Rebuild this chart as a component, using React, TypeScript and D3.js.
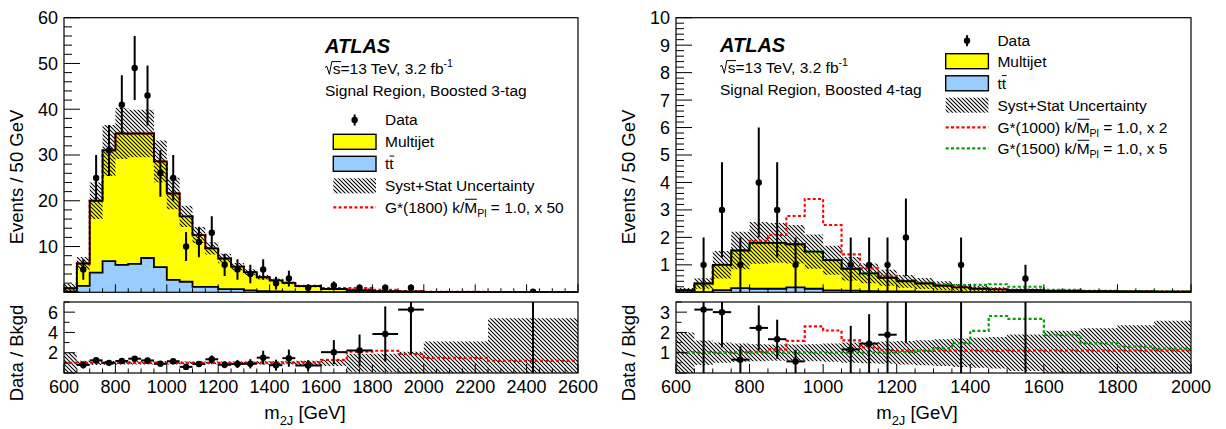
import React from 'react';
import * as d3 from 'd3';

const FONT = "'Liberation Sans', Arial, Helvetica, sans-serif";

// ---------------- data ----------------
// bin edges (GeV)
const leftEdges = [600, 650, 700, 750, 800, 850, 900, 950, 1000, 1050, 1100, 1150, 1200, 1250, 1300, 1350, 1400, 1450, 1500, 1600, 1700, 1800, 1900, 2000, 2250, 2600];
const rightEdges = [600, 650, 700, 750, 800, 850, 900, 950, 1000, 1050, 1100, 1150, 1200, 1250, 1300, 1350, 1400, 1450, 1500, 1600, 1700, 1800, 1900, 2000];

// Boosted 3-tag (events / 50 GeV)
const leftMultijet = [0.7, 4.9, 15.7, 24.2, 28.7, 28.5, 27.2, 23.1, 18.9, 14.3, 11.3, 8.4, 6.7, 4.9, 4.0, 3.05, 2.4, 1.9, 1.25, 0.68, 0.42, 0.24, 0.15, 0.065, 0.014];
const leftTtbar = [0.2, 1.4, 4.3, 6.8, 6.0, 6.2, 7.5, 5.5, 2.7, 2.3, 1.2, 1.2, 0.7, 0.7, 0.4, 0.25, 0.2, 0.15, 0.1, 0.05, 0.03, 0.02, 0.01, 0.005, 0.001];
const leftData: (number | null)[] = [null, 5, 25, 31, 41, 49, 43, 26, 25, 10, 11, 13, 6, 5, 4, 5, 2, 3, 1, 1.5, 1, 1, 1, null, 0.143];
const leftRelUnc = [1.0, 0.22, 0.2, 0.18, 0.16, 0.15, 0.15, 0.16, 0.16, 0.14, 0.14, 0.14, 0.14, 0.14, 0.14, 0.15, 0.15, 0.15, 0.2, 0.3, 0.87, 0.9, 1.1, 2.1, 4.4];
const leftSignal1800x50 = [0.005, 0.01, 0.01, 0.01, 0.01, 0.01, 0.01, 0.01, 0.01, 0.01, 0.01, 0.01, 0.01, 0.01, 0.02, 0.03, 0.04, 0.05, 0.07, 0.22, 0.5, 0.31, 0.14, 0.035, 0.003];

// Boosted 4-tag (events / 50 GeV)
const rightMultijet = [0.08, 0.31, 0.92, 1.37, 1.67, 1.67, 1.57, 1.35, 1.10, 0.80, 0.65, 0.50, 0.37, 0.30, 0.22, 0.17, 0.12, 0.095, 0.07, 0.047, 0.035, 0.028, 0.024];
const rightTtbar = [0, 0.01, 0.08, 0.15, 0.13, 0.13, 0.18, 0.13, 0.07, 0.06, 0.04, 0.03, 0.03, 0.02, 0.02, 0.01, 0.01, 0.01, 0.005, 0.003, 0.002, 0.002, 0.001];
const rightData: (number | null)[] = [null, 1, 3, 1, 4, 3, 1, null, null, 1, 1, 1, 2, null, null, 1, null, null, 0.5, null, null, null, null];
const rightRelUnc = [1.0, 0.6, 0.5, 0.45, 0.42, 0.4, 0.4, 0.42, 0.45, 0.5, 0.52, 0.55, 0.58, 0.62, 0.66, 0.7, 0.74, 0.78, 0.9, 1.08, 1.2, 1.35, 1.58];
const rightSignal1000x2 = [0, 0, 0, 0.02, 0.08, 0.29, 1.03, 1.92, 1.28, 0.52, 0.18, 0.07, 0.04, 0.03, 0.024, 0.018, 0.013, 0.01, 0.0075, 0.005, 0.0037, 0.003, 0.0025];
const rightSignal1500x5 = [0, 0, 0, 0, 0, 0, 0, 0, 0, 0, 0, 0, 0.01, 0.03, 0.055, 0.085, 0.14, 0.19, 0.125, 0.043, 0.017, 0.009, 0.005];

// tick labels
const leftXLabels = [600, 800, 1000, 1200, 1400, 1600, 1800, 2000, 2200, 2400, 2600];
const rightXLabels = [600, 800, 1000, 1200, 1400, 1600, 1800, 2000];
const leftYLabels = [10, 20, 30, 40, 50, 60];
const rightYLabels = [1, 2, 3, 4, 5, 6, 7, 8, 9, 10];
const leftRatioLabels = [2, 4, 6];
const rightRatioLabels = [1, 2, 3];

// ---------------- layout ----------------
const MAIN_TOP = 17.7;
const MAIN_BOT = 292.3;
const RAT_TOP = 302;
const RAT_BOT = 373;
const TICK_FS = 18;
const TITLE_FS = 18.5;
const LEG_FS = 15.5;
const RED = '#ff0000';
const GREEN = '#00a000';
const YELLOW = '#ffff00';
const BLUE = '#99ccff';

let _ctx: CanvasRenderingContext2D | null = null;
function measure(text: string, size: number, weight = 'normal', style = 'normal') {
  if (!_ctx) _ctx = document.createElement('canvas').getContext('2d');
  if (!_ctx) return text.length * size * 0.55;
  _ctx.font = `${style} ${weight} ${size}px 'Liberation Sans'`;
  return _ctx.measureText(text).width;
}

type Sig = { vals: number[]; color: string };
interface PanelProps {
  id: string;
  x0: number;
  x1: number;
  xMax: number;
  edges: number[];
  multijet: number[];
  ttbar: number[];
  data: (number | null)[];
  unc: number[];
  signals: Sig[];
  yMax: number;
  yMinor: number;
  yMajor: number;
  yLabels: number[];
  rMax: number;
  rMinor: number;
  rMajor: number;
  rLabels: number[];
  xLabels: number[];
}

const isMajor = (v: number, step: number) => Math.abs(v / step - Math.round(v / step)) < 1e-6;

function Panel(p: PanelProps) {
  const x = d3.scaleLinear().domain([600, p.xMax]).range([p.x0, p.x1]);
  const y = d3.scaleLinear().domain([0, p.yMax]).range([MAIN_BOT, MAIN_TOP]);
  const r = d3.scaleLinear().domain([0, p.rMax]).range([RAT_BOT, RAT_TOP]);
  const total = p.multijet.map((m, i) => m + p.ttbar[i]);
  const zeros = total.map(() => 0);
  const ext = (a: number[]) => [...a, a[a.length - 1]];

  const band = (lo: number[], hi: number[], ys: d3.ScaleLinear<number, number>) => {
    const L = ext(lo);
    const Hh = ext(hi);
    return d3
      .area<number>()
      .x((e) => x(e))
      .y0((_, i) => ys(L[i]))
      .y1((_, i) => ys(Hh[i]))
      .curve(d3.curveStepAfter)(p.edges) as string;
  };
  const outline = (vals: number[], ys: d3.ScaleLinear<number, number>, drop: boolean) => {
    const V = ext(vals);
    const pts: [number, number][] = p.edges.map((e, i) => [e, V[i]]);
    const all: [number, number][] = drop ? [[p.edges[0], 0], ...pts, [p.edges[p.edges.length - 1], 0]] : pts;
    return d3
      .line<[number, number]>()
      .x((d) => x(d[0]))
      .y((d) => ys(d[1]))
      .curve(d3.curveStepAfter)(all) as string;
  };

  const hatchLo = total.map((t, i) => Math.max(0, t * (1 - p.unc[i])));
  const hatchHi = total.map((t, i) => t * (1 + p.unc[i]));
  const rLo = p.unc.map((u) => Math.max(0, 1 - u));
  const rHi = p.unc.map((u) => 1 + u);

  const pts = p.data
    .map((v, i) => {
      if (v === null || v <= 0) return null;
      const w = p.edges[i + 1] - p.edges[i];
      const N = (v * w) / 50;
      const err = (Math.sqrt(N) * 50) / w;
      return { c: (p.edges[i] + p.edges[i + 1]) / 2, lo: p.edges[i], hi: p.edges[i + 1], v, err, b: total[i] };
    })
    .filter((d) => d !== null) as { c: number; lo: number; hi: number; v: number; err: number; b: number }[];

  const xTicks = d3.range(600, p.xMax + 1e-6, 50);
  const yTicks = d3.range(0, p.yMax + 1e-6, p.yMinor);
  const rTicks = d3.range(0, p.rMax + 1e-6, p.rMinor);
  const mainClip = `${p.id}-main`;
  const ratClip = `${p.id}-rat`;

  return (
    <g>
      <defs>
        <clipPath id={mainClip}>
          <rect x={p.x0} y={MAIN_TOP} width={p.x1 - p.x0} height={MAIN_BOT - MAIN_TOP} />
        </clipPath>
        <clipPath id={ratClip}>
          <rect x={p.x0} y={RAT_TOP} width={p.x1 - p.x0} height={RAT_BOT - RAT_TOP} />
        </clipPath>
      </defs>

      {/* main panel */}
      <g clipPath={`url(#${mainClip})`}>
        <path d={band(zeros, p.ttbar, y)} fill={BLUE} stroke="none" />
        <path d={band(p.ttbar, total, y)} fill={YELLOW} stroke="none" />
        <path d={band(hatchLo, hatchHi, y)} fill="url(#hatch)" stroke="none" />
        {p.signals.map((s, k) => (
          <path
            key={k}
            d={outline(total.map((t, i) => t + s.vals[i]), y, false)}
            fill="none"
            stroke={s.color}
            strokeWidth={2.1}
            strokeDasharray="3 2.3"
          />
        ))}
        <path d={outline(p.ttbar, y, true)} fill="none" stroke="#000" strokeWidth={1.8} />
        <path d={outline(total, y, true)} fill="none" stroke="#000" strokeWidth={1.9} />
        {pts.map((d, i) => (
          <g key={i}>
            <line x1={x(d.c)} x2={x(d.c)} y1={y(Math.max(0, d.v - d.err))} y2={y(d.v + d.err)} stroke="#000" strokeWidth={2} />
            <circle cx={x(d.c)} cy={y(d.v)} r={3.2} fill="#000" />
          </g>
        ))}
      </g>
      <rect x={p.x0} y={MAIN_TOP} width={p.x1 - p.x0} height={MAIN_BOT - MAIN_TOP} fill="none" stroke="#000" strokeWidth={1.2} />
      {yTicks.map((v, i) => {
        const maj = isMajor(v, p.yMajor);
        return <line key={'yt' + i} x1={p.x0} x2={p.x0 + (maj ? 16 : 8)} y1={y(v)} y2={y(v)} stroke="#000" strokeWidth={1} />;
      })}
      {xTicks.map((v, i) => {
        const maj = isMajor(v - 600, 200);
        return <line key={'xt' + i} x1={x(v)} x2={x(v)} y1={MAIN_BOT} y2={MAIN_BOT - (maj ? 8 : 4)} stroke="#000" strokeWidth={1} />;
      })}
      {p.yLabels.map((v) => (
        <text key={'yl' + v} x={p.x0 - 6} y={y(v)} dy="0.36em" textAnchor="end" fontSize={TICK_FS}>
          {v}
        </text>
      ))}

      {/* ratio panel */}
      <g clipPath={`url(#${ratClip})`}>
        <path d={band(rLo, rHi, r)} fill="url(#hatch)" stroke="none" />
        {p.signals.map((s, k) => (
          <path
            key={k}
            d={outline(total.map((t, i) => (t + s.vals[i]) / t), r, false)}
            fill="none"
            stroke={s.color}
            strokeWidth={2.2}
            strokeDasharray="3 2.3"
          />
        ))}
        {pts.map((d, i) => {
          const rv = d.v / d.b;
          const re = d.err / d.b;
          return (
            <g key={i}>
              <line x1={x(d.c)} x2={x(d.c)} y1={r(Math.max(0, rv - re))} y2={r(rv + re)} stroke="#000" strokeWidth={2} />
              <line x1={x(d.lo)} x2={x(d.hi)} y1={r(rv)} y2={r(rv)} stroke="#000" strokeWidth={2} />
              <circle cx={x(d.c)} cy={r(rv)} r={3.2} fill="#000" />
            </g>
          );
        })}
      </g>
      <rect x={p.x0} y={RAT_TOP} width={p.x1 - p.x0} height={RAT_BOT - RAT_TOP} fill="none" stroke="#000" strokeWidth={1.2} />
      {rTicks.map((v, i) => {
        const maj = isMajor(v, p.rMajor);
        return <line key={'rt' + i} x1={p.x0} x2={p.x0 + (maj ? 11 : 5.5)} y1={r(v)} y2={r(v)} stroke="#000" strokeWidth={1} />;
      })}
      {xTicks.map((v, i) => {
        const maj = isMajor(v - 600, 200);
        return <line key={'rxt' + i} x1={x(v)} x2={x(v)} y1={RAT_BOT} y2={RAT_BOT - (maj ? 9 : 4.5)} stroke="#000" strokeWidth={1} />;
      })}
      {p.rLabels.map((v) => (
        <text key={'rl' + v} x={p.x0 - 6} y={r(v)} dy="0.36em" textAnchor="end" fontSize={TICK_FS}>
          {v}
        </text>
      ))}
      {p.xLabels.map((v) => (
        <text key={'xl' + v} x={x(v)} y={393} textAnchor="middle" fontSize={TICK_FS}>
          {v}
        </text>
      ))}

      {/* axis titles */}
      <text transform={`translate(${p.x0 - 41},177) rotate(-90)`} textAnchor="middle" fontSize={TITLE_FS}>
        Events / 50 GeV
      </text>
      <text transform={`translate(${p.x0 - 41},353) rotate(-90)`} textAnchor="middle" fontSize={TITLE_FS}>
        Data / Bkgd
      </text>
      <text x={p.x0 + 241} y={419} textAnchor="middle" fontSize={TITLE_FS}>
        m
        <tspan fontSize={TITLE_FS * 0.7} dy={TITLE_FS * 0.35}>
          2J
        </tspan>
        <tspan fontSize={TITLE_FS} dy={-TITLE_FS * 0.35}>
          {' [GeV]'}
        </tspan>
      </text>
    </g>
  );
}

function AtlasLabel({ x, y, region }: { x: number; y: number; region: string }) {
  const fs = LEG_FS;
  const by = y + 21.3;
  const sW = measure('s', fs);
  const rw = fs * 0.5;
  return (
    <g>
      <text x={x} y={y} fontSize={20} fontWeight="bold" fontStyle="italic">
        ATLAS
      </text>
      <path
        d={`M${x},${by - fs * 0.42} L${x + fs * 0.12},${by - fs * 0.5} L${x + fs * 0.28},${by + fs * 0.02} L${x + fs * 0.44},${by - fs * 0.8} H${x + rw + sW + 0.5}`}
        fill="none"
        stroke="#000"
        strokeWidth={1}
      />
      <text x={x + rw} y={by} fontSize={fs}>
        s=13 TeV, 3.2 fb
        <tspan fontSize={fs * 0.68} dy={-fs * 0.42}>
          -1
        </tspan>
      </text>
      <text x={x} y={y + 43.3} fontSize={fs}>
        {region}
      </text>
    </g>
  );
}

function SignalText({ x, y, mass, factor }: { x: number; y: number; mass: string; factor: string }) {
  const fs = LEG_FS;
  const pre = `G*(${mass}) k/`;
  const wPre = measure(pre, fs);
  const wM = measure('M', fs);
  return (
    <g>
      <text x={x} y={y} fontSize={fs}>
        {pre}M
        <tspan fontSize={fs * 0.68} dy={fs * 0.3}>
          Pl
        </tspan>
        <tspan fontSize={fs} dy={-fs * 0.3}>
          {` = 1.0, x ${factor}`}
        </tspan>
      </text>
      <line x1={x + wPre + 0.8} x2={x + wPre + wM - 0.3} y1={y - fs * 0.86} y2={y - fs * 0.86} stroke="#000" strokeWidth={1} />
    </g>
  );
}

function Legend({ bx, rows, signals }: { bx: number; rows: number[]; signals: { color: string; mass: string; factor: string }[] }) {
  const bw = 42.7;
  const bh = 15;
  const tx = bx + bw + 9;
  const fs = LEG_FS;
  const tW = measure('t', fs);
  const cx = bx + bw / 2;
  return (
    <g>
      <line x1={cx} x2={cx} y1={rows[0] - 5.5} y2={rows[0] + 5.5} stroke="#000" strokeWidth={2} />
      <circle cx={cx} cy={rows[0]} r={3.2} fill="#000" />
      <text x={tx} y={rows[0] + 5.3} fontSize={fs}>
        Data
      </text>
      <rect x={bx} y={rows[1] - bh / 2} width={bw} height={bh} fill={YELLOW} stroke="#000" strokeWidth={1.4} />
      <text x={tx} y={rows[1] + 5.3} fontSize={fs}>
        Multijet
      </text>
      <rect x={bx} y={rows[2] - bh / 2} width={bw} height={bh} fill={BLUE} stroke="#000" strokeWidth={1.4} />
      <text x={tx} y={rows[2] + 5.3} fontSize={fs}>
        tt
      </text>
      <line x1={tx + tW + 0.3} x2={tx + 2 * tW + 0.6} y1={rows[2] + 5.3 - fs * 0.84} y2={rows[2] + 5.3 - fs * 0.84} stroke="#000" strokeWidth={1} />
      <rect x={bx} y={rows[3] - bh / 2} width={bw} height={bh} fill="url(#hatch)" stroke="none" />
      <text x={tx} y={rows[3] + 5.3} fontSize={fs}>
        Syst+Stat Uncertainty
      </text>
      {signals.map((s, k) => (
        <g key={k}>
          <line x1={bx} x2={bx + bw} y1={rows[4 + k]} y2={rows[4 + k]} stroke={s.color} strokeWidth={2.2} strokeDasharray="3 2.3" />
          <SignalText x={tx} y={rows[4 + k] + 5.3} mass={s.mass} factor={s.factor} />
        </g>
      ))}
    </g>
  );
}

export default function App() {
  return (
    <div style={{ position: 'absolute', left: 0, top: 0 }}>
      <svg width={1226} height={429} style={{ display: 'block', background: '#fff' }} fontFamily={FONT}>
        <defs>
          <pattern id="hatch" patternUnits="userSpaceOnUse" width={4} height={4}>
            <path d="M-1,-1 L5,5 M-1,3 L1,5 M3,-1 L5,1" stroke="#000" strokeWidth={1.05} />
          </pattern>
        </defs>
        <rect x={0} y={0} width={1226} height={429} fill="#fff" />
        <Panel
          id="left"
          x0={64}
          x1={578}
          xMax={2600}
          edges={leftEdges}
          multijet={leftMultijet}
          ttbar={leftTtbar}
          data={leftData}
          unc={leftRelUnc}
          signals={[{ vals: leftSignal1800x50, color: RED }]}
          yMax={60}
          yMinor={2}
          yMajor={10}
          yLabels={leftYLabels}
          rMax={7}
          rMinor={1}
          rMajor={2}
          rLabels={leftRatioLabels}
          xLabels={leftXLabels}
        />
        <Panel
          id="right"
          x0={676}
          x1={1191}
          xMax={2000}
          edges={rightEdges}
          multijet={rightMultijet}
          ttbar={rightTtbar}
          data={rightData}
          unc={rightRelUnc}
          signals={[
            { vals: rightSignal1000x2, color: RED },
            { vals: rightSignal1500x5, color: GREEN },
          ]}
          yMax={10}
          yMinor={0.2}
          yMajor={1}
          yLabels={rightYLabels}
          rMax={3.5}
          rMinor={0.5}
          rMajor={1}
          rLabels={rightRatioLabels}
          xLabels={rightXLabels}
        />
        <AtlasLabel x={325} y={52.7} region="Signal Region, Boosted 3-tag" />
        <AtlasLabel x={720} y={51.7} region="Signal Region, Boosted 4-tag" />
        <Legend bx={333.3} rows={[120, 141.8, 163.8, 185.8, 207.3]} signals={[{ color: RED, mass: '1800', factor: '50' }]} />
        <Legend
          bx={945.7}
          rows={[40.7, 61.2, 83.3, 105.2, 127.3, 148.3]}
          signals={[
            { color: RED, mass: '1000', factor: '2' },
            { color: GREEN, mass: '1500', factor: '5' },
          ]}
        />
      </svg>
    </div>
  );
}
